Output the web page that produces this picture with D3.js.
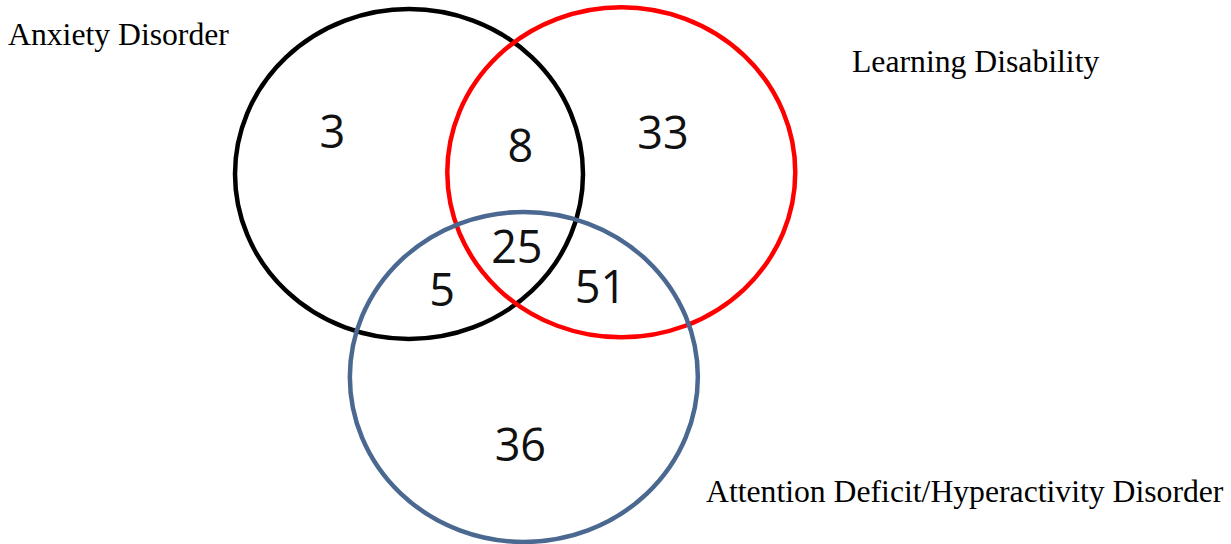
<!DOCTYPE html>
<html lang="en">
<head>
<meta charset="UTF-8">
<title>Venn</title>
<script src="https://cdn.jsdelivr.net/npm/d3@7/dist/d3.min.js"></script>
<style>
  body { margin: 0; background: #fff; }
  .setLabel { font-family: "Liberation Serif", "Times New Roman", serif; font-size: 31.7px; fill: #000; }
  .count { font-family: "Open Sans", "Noto Sans", sans-serif; font-size: 45px; fill: #111; }
</style>
</head>
<body>
<svg width="1231" height="544"></svg>
<script>
// sets
var setNames = ["Anxiety Disorder", "Learning Disability", "Attention Deficit/Hyperactivity Disorder"];
var setColors = ["#000000", "#ff0000", "#4a6890"];

// region counts
var regionKeys = ["A", "AL", "L", "ALH", "AH", "LH", "H"];
var regionValues = [3, 8, 33, 25, 5, 51, 36];

var svg = d3.select("svg");

// layout in venn units (circle radius = 1), mapped with scales
var x = d3.scaleLinear().domain([0, 1]).range([409, 583]);
var y = d3.scaleLinear().domain([0, 1]).range([174, 339]);

var circles = [
  { cx: 0, cy: 0 },
  { cx: 1.22, cy: -0.01 },
  { cx: 0.66, cy: 1.23 }
];

svg.selectAll("ellipse")
  .data(circles)
  .enter()
  .append("ellipse")
  .attr("cx", d => x(d.cx))
  .attr("cy", d => y(d.cy))
  .attr("rx", d => x(d.cx + 1) - x(d.cx))
  .attr("ry", d => y(d.cy + 1) - y(d.cy))
  .attr("fill", "none")
  .attr("stroke", (d, i) => setColors[i])
  .attr("stroke-width", 4.5);

// label spots for each region
var regionSpots = {
  A: [-0.44, -0.16], AL: [0.64, -0.07], L: [1.46, -0.15],
  ALH: [0.62, 0.54], AH: [0.19, 0.80], LH: [1.10, 0.78], H: [0.64, 1.74]
};

svg.selectAll("text.count")
  .data(regionKeys)
  .enter()
  .append("text")
  .attr("class", "count")
  .attr("text-anchor", "middle")
  .attr("x", d => x(regionSpots[d][0]))
  .attr("y", d => y(regionSpots[d][1]))
  .text((d, i) => regionValues[i]);

var labelSpots = [[8, 45], [852, 72], [706, 502]];
svg.selectAll("text.setLabel")
  .data(setNames)
  .enter()
  .append("text")
  .attr("class", "setLabel")
  .attr("x", (d, i) => labelSpots[i][0])
  .attr("y", (d, i) => labelSpots[i][1])
  .text(d => d);
</script>
</body>
</html>
